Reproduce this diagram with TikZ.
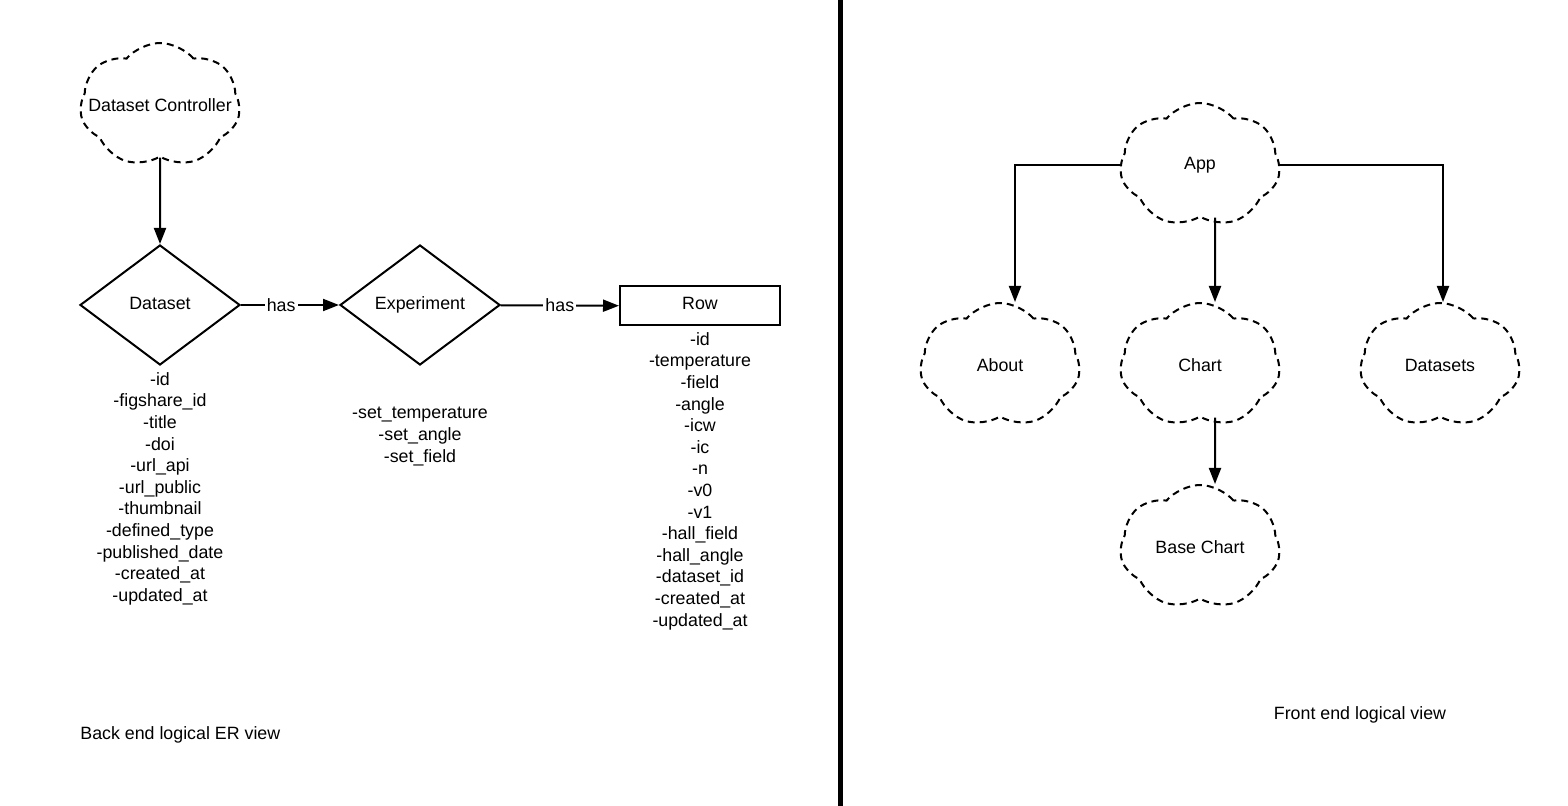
\documentclass[tikz,border=0pt]{standalone}
\usepackage{fontspec}
\setmainfont{Liberation Sans}
\usetikzlibrary{positioning, shapes.geometric, shapes.symbols, arrows.meta}

\tikzset{
    cloudbox/.style={cloud, cloud puffs=7, cloud puff arc=100, draw, line width=1pt,
        dash pattern=on 3.5pt off 2.5pt, minimum width=80pt, minimum height=62pt, inner sep=0pt,
        execute at begin node={\hbox to 0pt\bgroup\hss}, execute at end node={\hss\egroup}},
    relation/.style={diamond, draw, line width=1pt, minimum width=80pt, minimum height=60pt, inner sep=0pt,
        text height=6.5pt, text depth=2pt},
    entity/.style={rectangle, draw, line width=1pt, minimum width=80pt, minimum height=19.5pt, inner sep=0pt,
        text height=6.5pt, text depth=3pt},
    attrs/.style={align=center, anchor=north, inner sep=0pt},
    arrow/.style={-{Triangle[length=8pt,width=6pt]}, line width=1pt},
}

\begin{document}
\begin{tikzpicture}[x=0.5pt, y=-0.5pt, font=\fontsize{8.9}{10.8}\selectfont]
            \useasboundingbox (0, 0) rectangle (1568, 806);

            % back end
            \node [cloudbox] (dc) at (160, 105) {Dataset Controller};
            \node [relation] (dataset) at (160, 305) {Dataset};
            \node [relation] (experiment) at (420, 305) {Experiment};
            \node [entity] (row) at (700, 306) {Row};

            \node [attrs] (datasetattrs) at (160, 372) {-id\\-figshare\_id\\-title\\-doi\\-url\_api\\-url\_public\\-thumbnail\\-defined\_type\\-published\_date\\-created\_at\\-updated\_at};
            \node [attrs] (experimentattrs) at (420, 407) {-set\_temperature\\-set\_angle\\-set\_field};
            \node [attrs] (rowattrs) at (700, 332) {-id\\-temperature\\-field\\-angle\\-icw\\-ic\\-n\\-v0\\-v1\\-hall\_field\\-hall\_angle\\-dataset\_id\\-created\_at\\-updated\_at};

            \draw [arrow] (dc) -- (dataset);
            \draw [arrow] (dataset) -- (experiment) node [pos=0.41, fill=white, inner sep=1pt] {has};
            \draw [arrow] (experiment) -- (row) node [midway, fill=white, inner sep=1pt] {has};

            \node [anchor=west, inner sep=0pt] (backlabel) at (80, 735) {Back end logical ER view};

            % divider
            \draw [line width=2.5pt] (840, 0) -- (840, 806);

            % front end
            \node [cloudbox] (app) at (1200, 165) {App};
            \node [cloudbox] (about) at (1000, 365) {About};
            \node [cloudbox] (chart) at (1200, 365) {Chart};
            \node [cloudbox] (datasets) at (1440, 365) {Datasets};
            \node [cloudbox] (basechart) at (1200, 547) {Base Chart};

            \draw [arrow] (app.west) -| ([xshift=7.5pt]about.north);
            \draw [arrow] (app.east) -| ([xshift=1.5pt]datasets.north);
            \draw [arrow] ([xshift=7.5pt]app.south) -- ([xshift=7.5pt]chart.north);
            \draw [arrow] ([xshift=7.5pt]chart.south) -- ([xshift=7.5pt]basechart.north);

            \node (frontlabel) at (1360, 715) {Front end logical view};
        \end{tikzpicture}
\end{document}
